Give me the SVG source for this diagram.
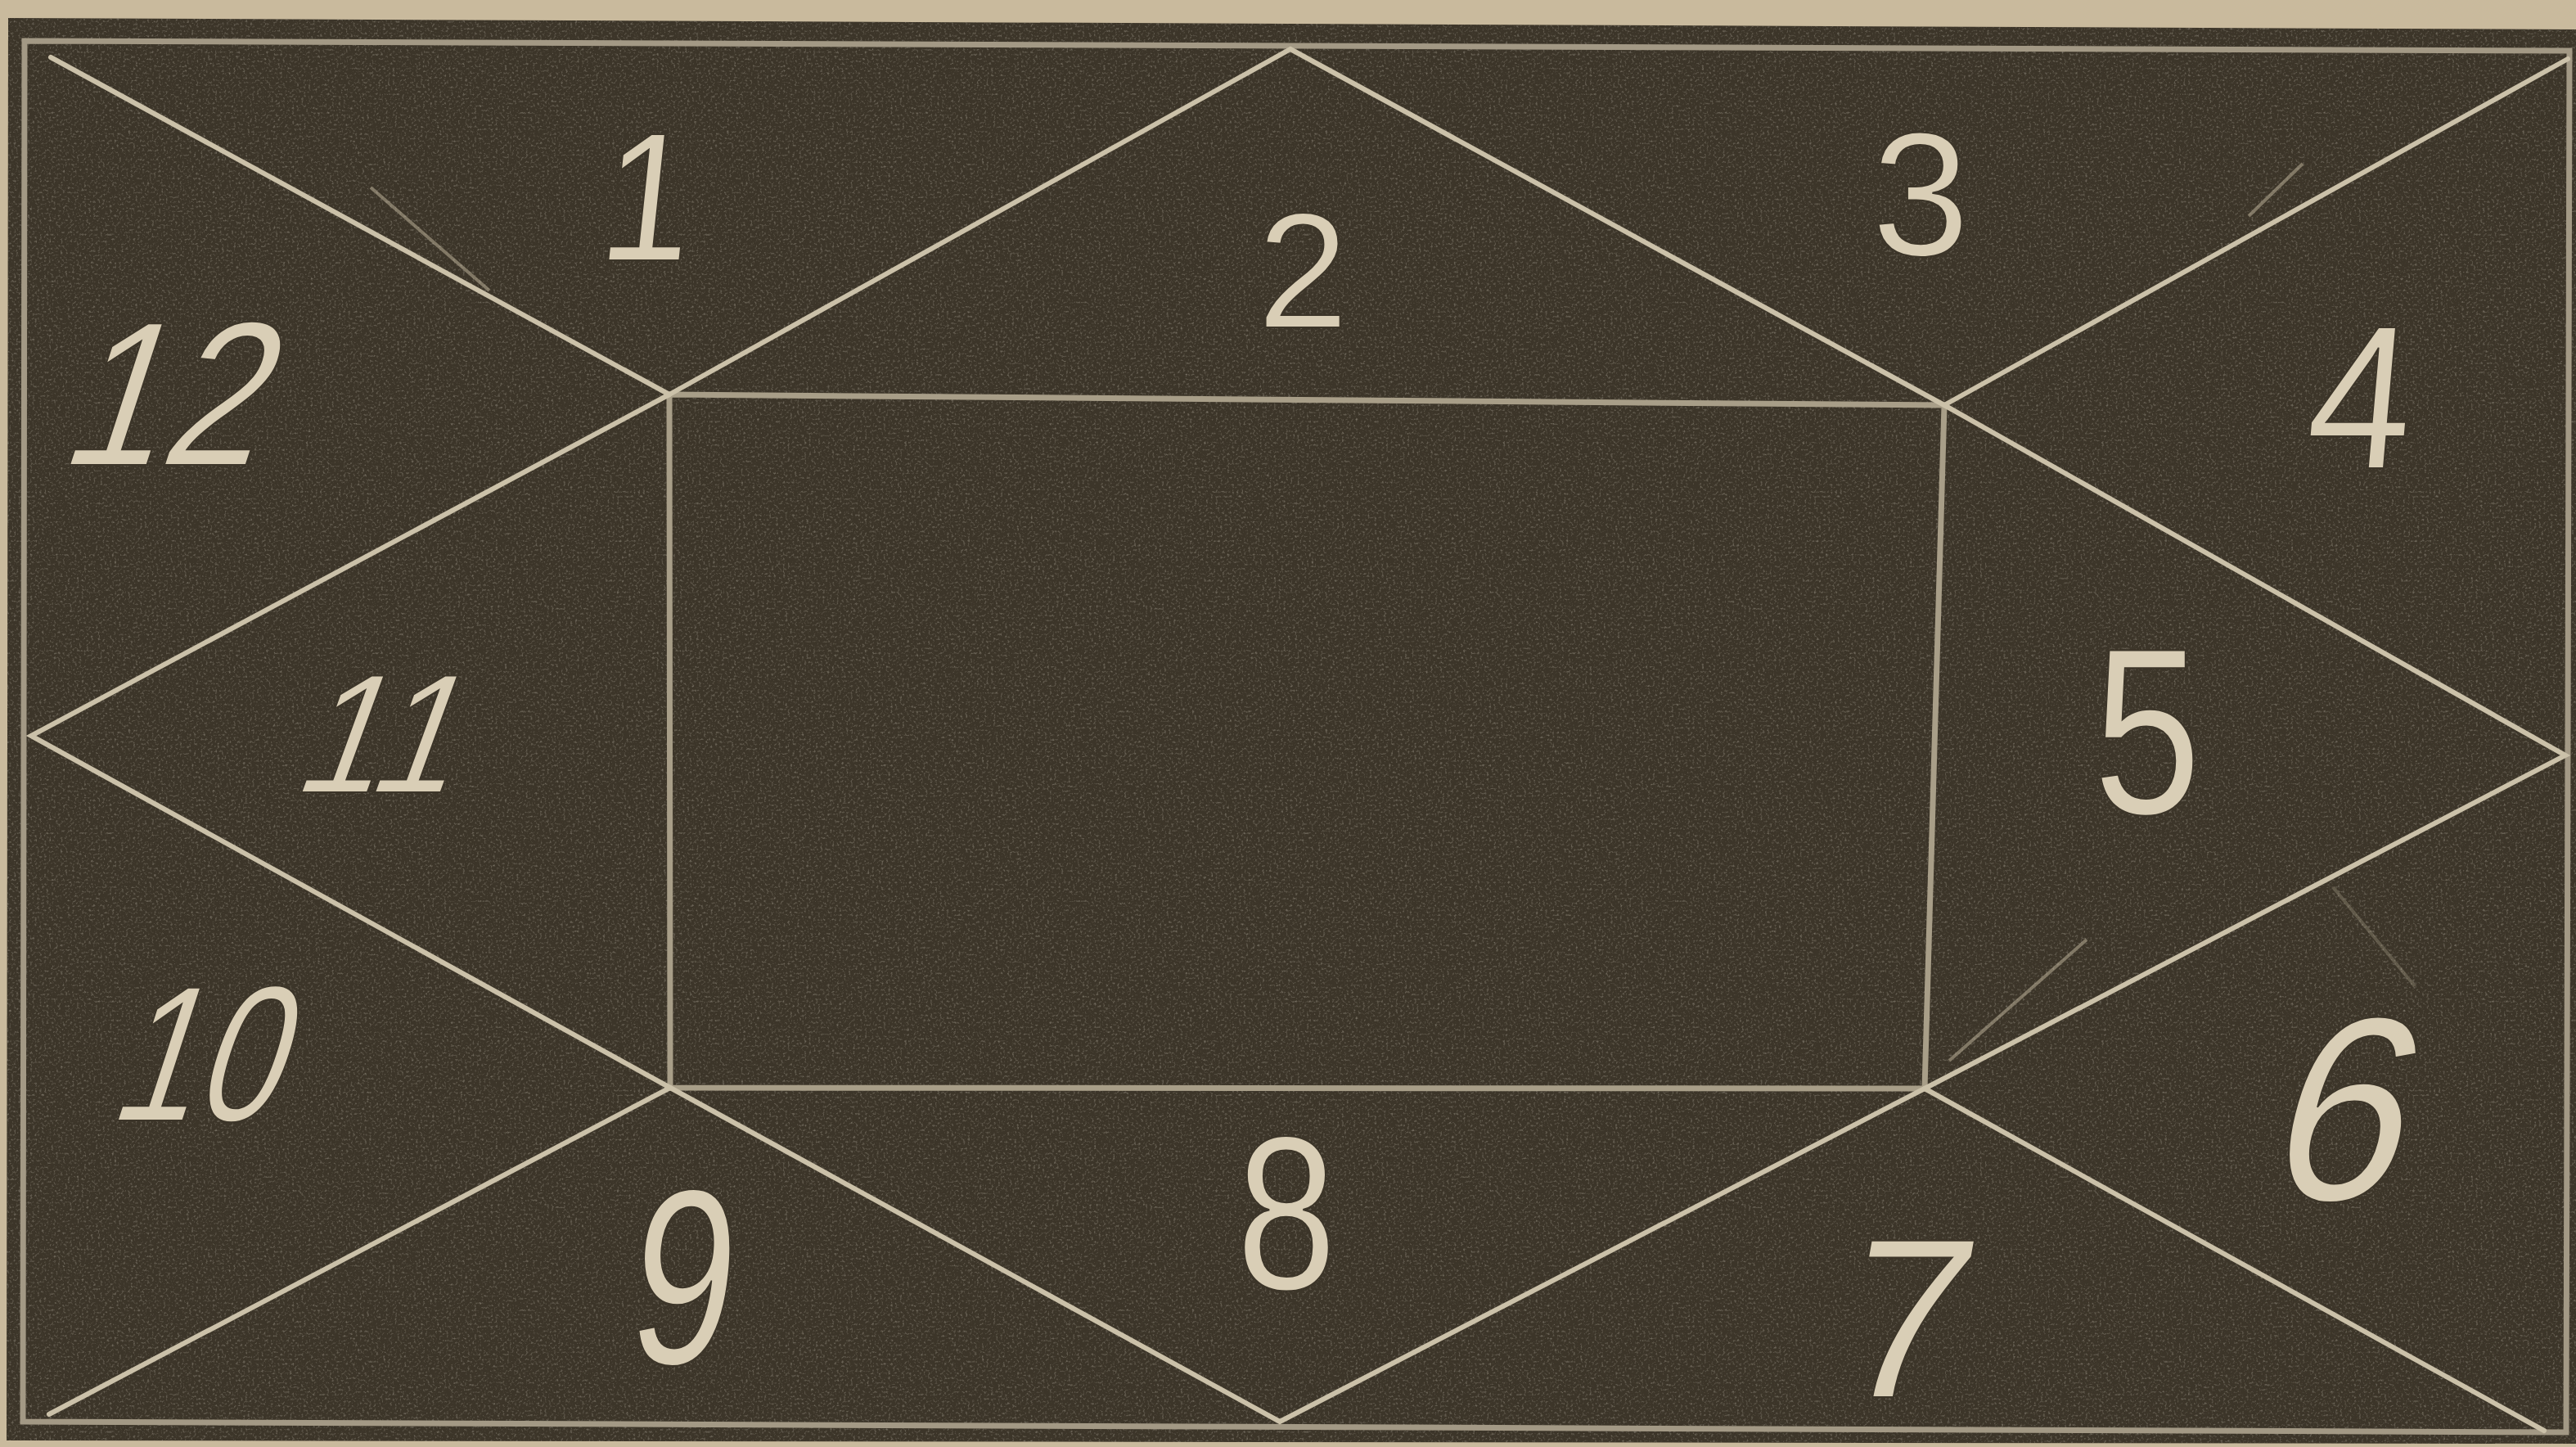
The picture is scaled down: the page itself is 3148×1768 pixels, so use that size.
<svg xmlns="http://www.w3.org/2000/svg" width="3148" height="1768" viewBox="0 0 3148 1768">
  <defs>
    <filter id="grain" x="0" y="0" width="100%" height="100%">
      <feTurbulence type="fractalNoise" baseFrequency="0.35" numOctaves="2" seed="7" result="n"/>
      <feColorMatrix type="matrix" values="0 0 0 0 0.82  0 0 0 0 0.77  0 0 0 0 0.66  0 0 0 1.6 -0.85"/>
    </filter>
    <clipPath id="plateClip"><polygon points="10,22 3148,36 3148,1764 8,1760"/></clipPath>
    <style>
      .diag { stroke: #cbc1a9; stroke-width: 6; fill: none; stroke-linecap: round; }
      .inner { stroke: #a89e88; stroke-width: 7; fill: none; }
      .border { stroke: #a39985; stroke-width: 7; fill: none; }
      .stray { stroke: #b9af98; stroke-width: 4; fill: none; opacity: 0.55; }
      .num { fill: #d9ceb6; stroke: #3c3529; stroke-width: 2; font-family: "Liberation Sans", Arial, sans-serif; text-anchor: middle; }
    </style>
  </defs>

  <!-- paper -->
  <rect x="0" y="0" width="3148" height="1768" fill="#c9ba9d"/>

  <!-- dark plate -->
  <g id="plate">
    <polygon points="10,22 3148,36 3148,1764 8,1760" fill="#3c3529"/>
    <rect x="0" y="0" width="3148" height="1768" filter="url(#grain)" clip-path="url(#plateClip)" opacity="0.55"/>
    <polygon class="border" points="30,50 3140,62 3136,1750 28,1737"/>
  </g>

  <!-- connectors: house lines -->
  <g id="lines">
    <polygon class="inner" points="818,482 2376,495 2352,1330 819,1329"/>
    <line class="diag" x1="62" y1="70" x2="818" y2="482"/>
    <line class="diag" x1="3138" y1="72" x2="2376" y2="495"/>
    <line class="diag" x1="3109" y1="1748" x2="2352" y2="1330"/>
    <line class="diag" x1="60" y1="1728" x2="819" y2="1329"/>
    <polyline class="diag" points="818,482 1577,60 2376,495 3135,923 2352,1330 1564,1737 819,1329 38,899 818,482"/>
    <line class="stray" x1="453" y1="229" x2="598" y2="355"/>
    <line class="stray" x1="2814" y1="200" x2="2748" y2="264"/>
    <line class="stray" x1="2550" y1="1148" x2="2382" y2="1296"/>
    <line class="stray" x1="2851" y1="1084" x2="2951" y2="1205" style="opacity:0.3"/>
  </g>

  <!-- house numbers -->
  <g id="labels">
    <g id="h1" transform="translate(784,318) skewX(-6) scale(0.9,1)"><text class="num" font-size="224">1</text></g>
    <g id="h2" transform="translate(1592,400)"><text class="num" font-size="200">2</text></g>
    <g id="h3" transform="translate(2347,312)"><text class="num" font-size="215">3</text></g>
    <g id="h4" transform="translate(2878,572) skewX(-5) scale(0.92,1)"><text class="num" font-size="250">4</text></g>
    <g id="h5" transform="translate(2624,994) scale(0.82,1)"><text class="num" font-size="290">5</text></g>
    <g id="h6" transform="translate(2845,1466) skewX(-14) scale(0.92,1)"><text class="num" font-size="320">6</text></g>
    <g id="h7" transform="translate(2316,1707) skewX(-10)"><text class="num" font-size="278">7</text></g>
    <g id="h8" transform="translate(1572,1575) scale(0.82,1)"><text class="num" font-size="268">8</text></g>
    <g id="h9" transform="translate(826,1666) skewX(-6) scale(0.75,1)"><text class="num" font-size="305">9</text></g>
    <g id="h10" transform="translate(232,1369) skewX(-18) scale(0.78,1)"><text class="num" font-size="236">10</text></g>
    <g id="h11" transform="translate(451,968) skewX(-20) scale(0.9,1)"><text class="num" font-size="207">11</text></g>
    <g id="h12" transform="translate(190,568) skewX(-18) scale(0.87,1)"><text class="num" font-size="251">12</text></g>
  </g>
</svg>
